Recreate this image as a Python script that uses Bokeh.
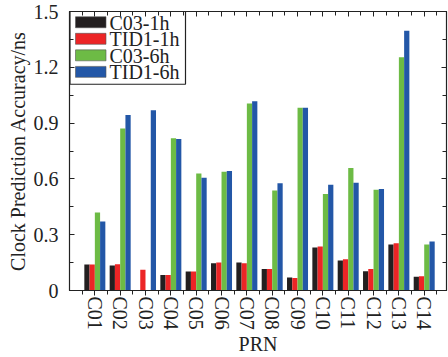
from bokeh.plotting import figure
from bokeh.models import ColumnDataSource, FixedTicker, LinearAxis, Range1d, CustomJSTickFormatter
from bokeh.core.properties import value
from bokeh.embed import file_html
from bokeh.resources import INLINE

prn = ["C01", "C02", "C03", "C04", "C05", "C06", "C07",
       "C08", "C09", "C10", "C11", "C12", "C13", "C14"]
c03_1h = [0.140, 0.134, 0.000, 0.084, 0.102, 0.147, 0.150,
          0.115, 0.070, 0.231, 0.161, 0.104, 0.247, 0.074]
tid1_1h = [0.140, 0.141, 0.111, 0.084, 0.102, 0.150, 0.147,
           0.115, 0.067, 0.237, 0.168, 0.115, 0.254, 0.077]
c03_6h = [0.420, 0.871, 0.000, 0.819, 0.629, 0.638, 1.005,
          0.537, 0.983, 0.519, 0.658, 0.542, 1.254, 0.247]
tid1_6h = [0.371, 0.944, 0.969, 0.814, 0.606, 0.643, 1.017,
           0.576, 0.983, 0.569, 0.579, 0.546, 1.396, 0.263]
series_names = ["C03-1h", "TID1-1h", "C03-6h", "TID1-6h"]
y_ticks = [0, 0.3, 0.6, 0.9, 1.2, 1.5]

colors = ["#231f20", "#ec2526", "#6dbb45", "#2357a7"]
offsets = [-0.311, -0.104, 0.104, 0.311]
bw = 0.207
FONT = "Liberation Serif"
INK = "#222222"

X0, X1 = 0, 14.88
Y0, Y1 = 0, 1.5
FW, FH = 377, 280  # frame size in px

pos = list(range(1, len(prn) + 1))

p = figure(width=448, height=357, output_backend="svg", toolbar_location=None,
           x_range=Range1d(X0, X1), y_range=Range1d(Y0, Y1),
           min_border_left=69, min_border_right=2, min_border_top=11, min_border_bottom=66)
p.xgrid.visible = False
p.ygrid.visible = False
p.outline_line_color = INK
p.outline_line_width = 1.2

for vals, col, off in zip([c03_1h, tid1_1h, c03_6h, tid1_6h], colors, offsets):
    src = ColumnDataSource(dict(x=[v + off for v in pos], top=vals))
    p.vbar(x="x", top="top", width=bw, bottom=0, source=src,
           fill_color=col, line_color=None)

xt = FixedTicker(ticks=pos, minor_ticks=[v + 0.5 for v in range(0, 15)])
yt = FixedTicker(ticks=y_ticks, minor_ticks=[0.15 * i for i in range(11)])

ax = p.xaxis[0]
ax.ticker = xt
ax.major_label_overrides = {i + 1: s for i, s in enumerate(prn)}
ax.major_label_orientation = "vertical"
ax.major_label_text_font = FONT
ax.major_label_text_font_size = "20px"
ax.major_label_text_color = INK
ax.major_tick_in = 0
ax.major_tick_out = 5
ax.minor_tick_in = 0
ax.minor_tick_out = 4
ax.major_label_standoff = 1
ax.axis_label = "PRN"
ax.axis_label_text_font = FONT
ax.axis_label_text_font_style = "normal"
ax.axis_label_text_font_size = "20px"
ax.axis_label_text_color = INK
ax.axis_label_standoff = 0

ay = p.yaxis[0]
ay.ticker = yt
ay.major_label_overrides = {0: "0"}
ay.major_label_text_font = FONT
ay.major_label_text_font_size = "20px"
ay.major_label_text_color = INK
ay.major_tick_in = 5
ay.major_tick_out = 0
ay.minor_tick_in = 4
ay.minor_tick_out = 0
ay.major_label_standoff = 11
ay.axis_label = "Clock Prediction Accuracy/ns"
ay.axis_label_text_font = FONT
ay.axis_label_text_font_style = "normal"
ay.axis_label_text_font_size = "20px"
ay.axis_label_text_color = INK
ay.axis_label_standoff = 2

for a in (ax, ay):
    a.axis_line_color = INK
    a.major_tick_line_color = INK
    a.minor_tick_line_color = INK

for ticker, loc in ((xt, "above"), (yt, "right")):
    extra = LinearAxis(ticker=ticker, formatter=CustomJSTickFormatter(code="return ''"),
                       major_tick_in=5, major_tick_out=0, minor_tick_in=4, minor_tick_out=0,
                       axis_line_color=INK, major_tick_line_color=INK,
                       minor_tick_line_color=INK, major_label_standoff=0)
    p.add_layout(extra, loc)

# hand-drawn legend (pixel layout inside the frame, converted to data units)
def dx(px):
    return X0 + px * (X1 - X0) / FW

def dy(px_from_top):
    return Y1 - px_from_top * (Y1 - Y0) / FH

box_l, box_r, box_t, box_b = 0.5, 116, 0, 73
sw_l, sw_r, sw_h, row0, row_step = 6, 36.5, 11, 10.8, 16.6
txt_x = 40

p.quad(left=[dx(box_l)], right=[dx(box_r)], top=[dy(box_t)], bottom=[dy(box_b)],
       fill_color="white", line_color=INK, line_width=1.2)
rows = [row0 + i * row_step for i in range(len(series_names))]
p.quad(left=[dx(sw_l)] * 4, right=[dx(sw_r)] * 4,
       top=[dy(r - sw_h / 2) for r in rows], bottom=[dy(r + sw_h / 2) for r in rows],
       fill_color=colors, line_color="#555555", line_width=0.6)
p.text(x=[dx(txt_x)] * 4, y=[dy(r + 0.5) for r in rows], text=series_names,
       text_font=value(FONT), text_font_size="20px", text_color=INK,
       text_baseline="middle", text_align="left")

open("out.html", "w").write(file_html(p, INLINE))
